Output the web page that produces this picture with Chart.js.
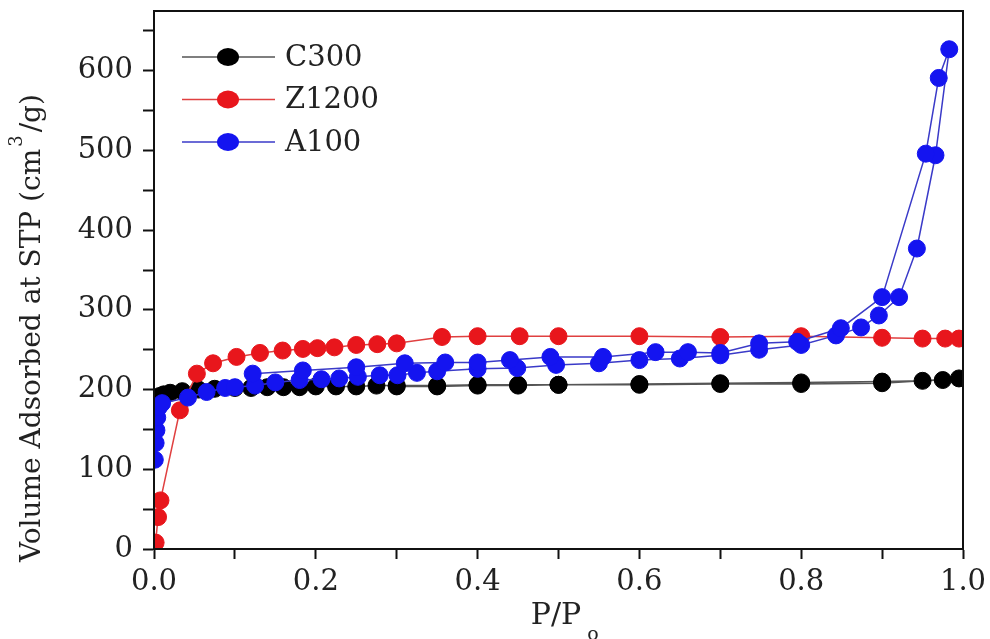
<!DOCTYPE html>
<html>
<head>
<meta charset="utf-8">
<script src="https://cdn.jsdelivr.net/npm/chart.js@4"></script>
<style>
  body { margin: 0; background: #fff; }
  #wrap { width: 990px; height: 639px; }
</style>
</head>
<body>
<div id="wrap"><canvas id="iso" width="990" height="639"></canvas></div>
<script>
// relative pressure P/Po and adsorbed volume (cm3/g), adsorption then desorption
const c300P = [0.001, 0.002, 0.004, 0.007, 0.012, 0.02, 0.035, 0.055, 0.075, 0.1, 0.12, 0.14, 0.16, 0.18, 0.2, 0.225, 0.25, 0.275, 0.3, 0.35, 0.4, 0.45, 0.5, 0.6, 0.7, 0.8, 0.9, 0.95, 0.975, 0.995,
               0.9, 0.8, 0.7, 0.6, 0.5, 0.45, 0.4, 0.35, 0.3];
const c300V = [180, 186, 189, 192, 194, 196, 198, 200, 201, 202, 202, 203, 203, 203, 204, 204, 204, 205, 205, 205, 206, 206, 206, 207, 208, 209, 210, 211, 212, 214,
               208, 207, 207, 206, 206, 205, 205, 204, 204];

const z1200P = [0.002, 0.005, 0.008, 0.032, 0.053, 0.073, 0.102, 0.131, 0.159, 0.184, 0.202, 0.223, 0.25, 0.276, 0.3, 0.356, 0.4, 0.452, 0.5, 0.6, 0.7, 0.8, 0.9, 0.95, 0.978, 0.995];
const z1200V = [8, 40, 61, 174, 220, 233, 241, 246, 249, 251, 252, 253, 256, 257, 258, 266, 267, 267, 267, 267, 266, 267, 265, 264, 264, 264];

const a100P = [0.001, 0.002, 0.003, 0.004, 0.006, 0.01, 0.042, 0.065, 0.088, 0.1, 0.125, 0.15, 0.18, 0.207, 0.229, 0.252, 0.279, 0.301, 0.325, 0.35, 0.4, 0.449, 0.497, 0.55, 0.6, 0.65, 0.7, 0.748, 0.8, 0.843, 0.874, 0.896, 0.921, 0.943, 0.966, 0.983,
               0.97, 0.954, 0.9, 0.849, 0.795, 0.748, 0.7, 0.66, 0.62, 0.555, 0.49, 0.44, 0.4, 0.36, 0.31, 0.25, 0.184, 0.122];
const a100V = [112, 133, 149, 165, 178, 183, 190, 197, 202, 203, 205, 209, 212, 213, 214, 216, 218, 218, 221, 223, 226, 227, 231, 233, 237, 239, 243, 250, 256, 268, 278, 293, 316, 377, 494, 627,
               591, 496, 316, 277, 260, 258, 246, 247, 247, 241, 241, 237, 234, 234, 233, 228, 224, 220];

const xTicks = [0, 0.2, 0.4, 0.6, 0.8, 1.0];
const yTicks = [0, 100, 200, 300, 400, 500, 600];

const FONT = "'DejaVu Serif', serif";

function pts(xs, ys) {
  return xs.map((x, i) => ({ x: x, y: ys[i] }));
}

const series = [
  { label: "C300", data: pts(c300P, c300V), fill: "#000000", line: "#555555", order: 3 },
  { label: "Z1200", data: pts(z1200P, z1200V), fill: "#e8161c", line: "#e04040", order: 2 },
  { label: "A100", data: pts(a100P, a100V), fill: "#1414f0", line: "#3a3ac8", order: 1 }
];

// frame box, legend and axis titles
const decor = {
  id: "decor",
  afterDatasetsDraw(chart) {
    const { ctx, chartArea: a } = chart;
    ctx.save();
    ctx.strokeStyle = "#111";
    ctx.lineWidth = 2;
    ctx.strokeRect(a.left, a.top, a.right - a.left, a.bottom - a.top);

    // legend
    ctx.font = "29px " + FONT;
    ctx.textBaseline = "middle";
    series.forEach((s, i) => {
      const y = 57 + i * 42.5;
      ctx.strokeStyle = s.line;
      ctx.lineWidth = 1.5;
      ctx.beginPath();
      ctx.moveTo(182, y);
      ctx.lineTo(275, y);
      ctx.stroke();
      ctx.fillStyle = s.fill;
      ctx.beginPath();
      ctx.ellipse(228, y, 11, 9, 0, 0, Math.PI * 2);
      ctx.fill();
      ctx.fillStyle = "#222";
      ctx.fillText(s.label, 285, y + 1);
    });
    ctx.restore();
  },
  afterDraw(chart) {
    const ctx = chart.ctx;
    ctx.save();
    ctx.fillStyle = "#222";
    // y title
    ctx.translate(33, 328);
    ctx.rotate(-Math.PI / 2);
    ctx.textBaseline = "middle";
    const main = "Volume Adsorbed at STP (cm";
    const tail = "/g)";
    ctx.font = "28px " + FONT;
    const w1 = ctx.measureText(main).width;
    const w3 = ctx.measureText(tail).width;
    ctx.font = "18px " + FONT;
    const w2 = ctx.measureText("3").width + 5;
    const x0 = -(w1 + w2 + w3) / 2;
    ctx.textAlign = "left";
    ctx.font = "28px " + FONT;
    ctx.fillText(main, x0, 0);
    ctx.font = "18px " + FONT;
    ctx.fillText("3", x0 + w1 + 2, -16);
    ctx.font = "28px " + FONT;
    ctx.fillText(tail, x0 + w1 + w2, 0);
    ctx.restore();

    // x title P/Po
    ctx.save();
    ctx.fillStyle = "#222";
    ctx.textBaseline = "alphabetic";
    ctx.font = "30px " + FONT;
    const wp = ctx.measureText("P/P").width;
    ctx.fillText("P/P", 560 - wp / 2 - 4, 624);
    ctx.font = "19px " + FONT;
    ctx.fillText("o", 560 + wp / 2 + 2, 640);
    ctx.restore();
  }
};

new Chart(document.getElementById("iso"), {
  type: "scatter",
  data: {
    datasets: series.map(s => ({
      label: s.label,
      data: s.data,
      showLine: true,
      borderColor: s.line,
      borderWidth: 1.5,
      backgroundColor: s.fill,
      pointBackgroundColor: s.fill,
      pointBorderColor: s.fill,
      pointBorderWidth: 1,
      pointRadius: 8.5,
      pointHoverRadius: 8.5,
      order: s.order
    }))
  },
  options: {
    responsive: false,
    animation: false,
    devicePixelRatio: 1,
    layout: { padding: { top: 11, right: 27, left: 0, bottom: 0 } },
    plugins: { legend: { display: false }, tooltip: { enabled: false } },
    scales: {
      x: {
        type: "linear",
        min: 0,
        max: 1,
        afterBuildTicks: s => { s.ticks = []; for (let i = 0; i <= 10; i++) s.ticks.push({ value: i / 10 }); },
        afterFit: s => { s.height = 90; s.paddingLeft = 0; s.paddingRight = 0; },
        ticks: {
          autoSkip: false,
          maxRotation: 0,
          padding: 6,
          color: "#222",
          font: { family: FONT, size: 29 },
          callback: v => xTicks.some(t => Math.abs(t - v) < 1e-6) ? v.toFixed(1) : ""
        },
        grid: { drawOnChartArea: false, tickLength: 10, tickWidth: 2, tickColor: "#111" },
        border: { display: true, color: "#111", width: 2 }
      },
      y: {
        type: "linear",
        min: 0,
        max: 675,
        afterBuildTicks: s => { s.ticks = []; for (let v = 0; v <= 650; v += 50) s.ticks.push({ value: v }); },
        afterFit: s => { s.width = 154; s.paddingTop = 0; s.paddingBottom = 0; },
        ticks: {
          autoSkip: false,
          padding: 10,
          color: "#222",
          font: { family: FONT, size: 29 },
          callback: v => yTicks.includes(v) ? String(v) : ""
        },
        grid: { drawOnChartArea: false, tickLength: 11, tickWidth: 2, tickColor: "#111" },
        border: { display: true, color: "#111", width: 2 }
      }
    }
  },
  plugins: [decor]
});
</script>
</body>
</html>
